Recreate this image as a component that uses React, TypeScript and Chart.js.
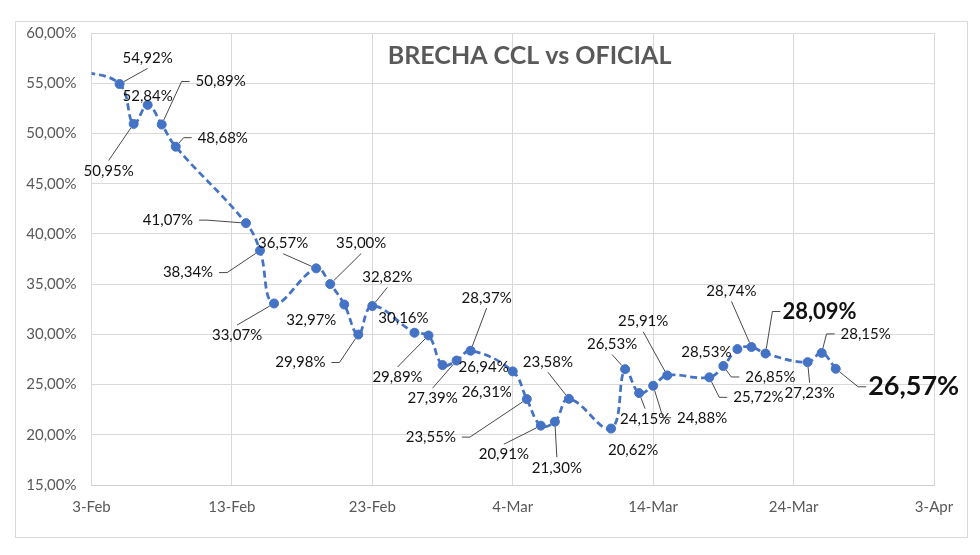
import React, { useEffect, useRef } from 'react';
import { Chart, registerables } from 'chart.js';

Chart.register(...registerables);

// ---------- data ----------
const startDate = '2024-02-03';
const dates = [
  '2024-02-02', '2024-02-05', '2024-02-06', '2024-02-07', '2024-02-08', '2024-02-09',
  '2024-02-14', '2024-02-15', '2024-02-16', '2024-02-19', '2024-02-20', '2024-02-21',
  '2024-02-22', '2024-02-23', '2024-02-26', '2024-02-27', '2024-02-28', '2024-02-29',
  '2024-03-01', '2024-03-04', '2024-03-05', '2024-03-06', '2024-03-07', '2024-03-08',
  '2024-03-11', '2024-03-12', '2024-03-13', '2024-03-14', '2024-03-15', '2024-03-18',
  '2024-03-19', '2024-03-20', '2024-03-21', '2024-03-22', '2024-03-25', '2024-03-26',
  '2024-03-27',
];
const values = [
  56.3, 54.92, 50.95, 52.84, 50.89, 48.68,
  41.07, 38.34, 33.07, 36.57, 35.0, 32.97,
  29.98, 32.82, 30.16, 29.89, 26.94, 27.39,
  28.37, 26.31, 23.55, 20.91, 21.3, 23.58,
  20.62, 26.53, 24.15, 24.88, 25.91, 25.72,
  26.85, 28.53, 28.74, 28.09, 27.23, 28.15,
  26.57,
];
const yTicks = [15, 20, 25, 30, 35, 40, 45, 50, 55, 60];
const xTickStepDays = 10;
const xSpanDays = 60;
const title = 'BRECHA CCL vs OFICIAL';
const monthNames = ['Jan', 'Feb', 'Mar', 'Apr', 'May', 'Jun', 'Jul', 'Aug', 'Sep', 'Oct', 'Nov', 'Dec'];

// ---------- label layout (style only: offset of the label from its point, leader type, font size) ----------
// [dx, dy, leader ('s' side, 'v' vertical, '' none, 'x' hidden), fontSize]
const labelLayout: [number, number, string, number][] = [
  [0, 0, 'x', 15],
  [28, -26, 'v', 15],
  [-25, 47, 'v', 15],
  [0, -9, '', 15],
  [59, -43, 's', 15],
  [47, -9, 's', 15],
  [-78, -3, 's', 15],
  [-72, 22, 's', 15],
  [-37, 32, 'v', 15],
  [-33, -25, 'v', 15],
  [31, -41, 'v', 15],
  [-33, 16, '', 15],
  [-58, 28, 's', 15],
  [15, -29, 'v', 15],
  [-11, -15, '', 15],
  [-31, 42, 'v', 15],
  [41, 2, '', 15],
  [-24, 38, 'v', 15],
  [16, -53, 'v', 15],
  [-26, 21, '', 15],
  [-96, 38, 's', 15],
  [-37, 29, 'v', 15],
  [2, 46, 'v', 15],
  [-21, -37, 'v', 15],
  [22, 22, '', 15],
  [-13, -25, 'v', 15],
  [6, 26, 'v', 15],
  [49, 32, 's', 15],
  [-24, -54, 'v', 15],
  [49, 20, 's', 15],
  [47, 11, 's', 15],
  [-31, 3, '', 15],
  [-20, -56, 'v', 15],
  [54, -42, 's', 22],
  [2, 31, 'v', 15],
  [44, -19, 's', 15],
  [78, 18, 's', 27],
];

const DAY = 86400000;
const dayIndex = (d: string) => Math.round((Date.parse(d) - Date.parse(startDate)) / DAY);
const fmtPct = (v: number) => v.toFixed(2).replace('.', ',') + '%';
const fmtDay = (n: number) => {
  const d = new Date(Date.parse(startDate) + n * DAY);
  return `${d.getUTCDate()}-${monthNames[d.getUTCMonth()]}`;
};

const FONT = 'Lato, "Open Sans", sans-serif';
const BLUE = '#4472C4';
const GRID = '#D9D9D9';
const TICK = '#595959';

const framePlugin = {
  id: 'frame',
  beforeDraw(chart: any) {
    const { ctx, width, height } = chart;
    ctx.save();
    ctx.fillStyle = '#ffffff';
    ctx.fillRect(0, 0, width, height);
    ctx.strokeStyle = '#D9D9D9';
    ctx.lineWidth = 1;
    ctx.strokeRect(15.5, 21.5, width - 28, height - 39);
    ctx.restore();
  },
  beforeDatasetsDraw(chart: any) {
    const { ctx, chartArea } = chart;
    ctx.save();
    ctx.fillStyle = TICK;
    ctx.font = `bold 25px ${FONT}`;
    ctx.textAlign = 'center';
    ctx.textBaseline = 'middle';
    ctx.fillText(title, chartArea.left + (chartArea.right - chartArea.left) * 0.52, chartArea.top + 23);
    ctx.restore();
  },
};

const labelPlugin = {
  id: 'pointLabels',
  afterDatasetsDraw(chart: any) {
    const ctx = chart.ctx;
    const meta = chart.getDatasetMeta(0);
    ctx.save();
    meta.data.forEach((pt: any, i: number) => {
      const cfg = labelLayout[i];
      if (!cfg || cfg[2] === 'x') return;
      const [dx, dy, mode, size] = cfg;
      const px = pt.x;
      const py = pt.y;
      const cx = px + dx;
      const cy = py + dy;
      const big = size > 15;
      ctx.font = `${big ? 'bold ' : ''}${size}px ${FONT}`;
      const text = fmtPct(values[i]);
      const w = ctx.measureText(text).width;
      const h = size * 0.72;
      if (mode === 's' || mode === 'v') {
        const pts: [number, number][] = [];
        if (mode === 's') {
          const sgn = dx > 0 ? -1 : 1;
          const ax = cx + sgn * (w / 2 + (big ? 2 : 6));
          pts.push([ax, cy]);
          pts.push([ax + sgn * 8, cy]);
        } else {
          const sgn = dy > 0 ? -1 : 1;
          pts.push([cx, cy + sgn * (h / 2 + 5)]);
        }
        const [lx, ly] = pts[pts.length - 1];
        const vx = lx - px;
        const vy = ly - py;
        const len = Math.hypot(vx, vy) || 1;
        pts.push([px + (vx / len) * 5, py + (vy / len) * 5]);
        ctx.beginPath();
        ctx.moveTo(pts[0][0], pts[0][1]);
        for (let k = 1; k < pts.length; k++) ctx.lineTo(pts[k][0], pts[k][1]);
        ctx.strokeStyle = '#333333';
        ctx.lineWidth = 0.9;
        ctx.stroke();
      }
      ctx.fillStyle = '#111111';
      ctx.textAlign = 'center';
      ctx.textBaseline = 'middle';
      ctx.fillText(text, cx, cy);
    });
    ctx.restore();
  },
};

export default function App() {
  const ref = useRef<HTMLCanvasElement | null>(null);

  useEffect(() => {
    if (!ref.current) return;
    const points = dates.map((d, i) => ({ x: dayIndex(d), y: values[i] }));
    const chart = new Chart(ref.current, {
      type: 'line',
      data: {
        datasets: [
          {
            data: points,
            borderColor: BLUE,
            backgroundColor: BLUE,
            borderWidth: 2.75,
            borderDash: [7, 4],
            tension: 0.4,
            pointRadius: points.map((_, i) => (labelLayout[i][2] === 'x' ? 0 : 4.5)),
            pointBorderWidth: 1,
            pointBorderColor: BLUE,
            pointBackgroundColor: BLUE,
          },
        ],
      },
      options: {
        responsive: false,
        animation: false,
        layout: { padding: { top: 33, right: 46, bottom: 0, left: 0 } },
        plugins: {
          legend: { display: false },
          tooltip: { enabled: false },
          title: { display: false },
        },
        scales: {
          x: {
            type: 'linear',
            min: 0,
            max: xSpanDays,
            afterFit: (s: any) => {
              s.height = 70;
            },
            ticks: {
              stepSize: xTickStepDays,
              padding: 13,
              color: TICK,
              font: { family: FONT, size: 15 },
              callback: (v: any) => fmtDay(Number(v)),
              maxRotation: 0,
            },
            grid: { color: GRID, drawTicks: false, lineWidth: 1 },
            border: { color: '#D0D0D0', width: 1 },
          },
          y: {
            min: yTicks[0],
            max: yTicks[yTicks.length - 1],
            afterFit: (s: any) => {
              s.width = 91.5;
            },
            afterBuildTicks: (s: any) => {
              s.ticks = yTicks.map((v) => ({ value: v }));
            },
            ticks: {
              padding: 15,
              color: TICK,
              font: { family: FONT, size: 15 },
              callback: (v: any) => fmtPct(Number(v)),
            },
            grid: { color: GRID, drawTicks: false, lineWidth: 1 },
            border: { display: false },
          },
        },
      },
      plugins: [framePlugin, labelPlugin],
    });
    return () => chart.destroy();
  }, []);

  return (
    <div style={{ position: 'absolute', left: 0, top: 0, width: 980, height: 555, background: '#fff' }}>
      <canvas ref={ref} width={980} height={555} style={{ display: 'block' }} />
    </div>
  );
}
